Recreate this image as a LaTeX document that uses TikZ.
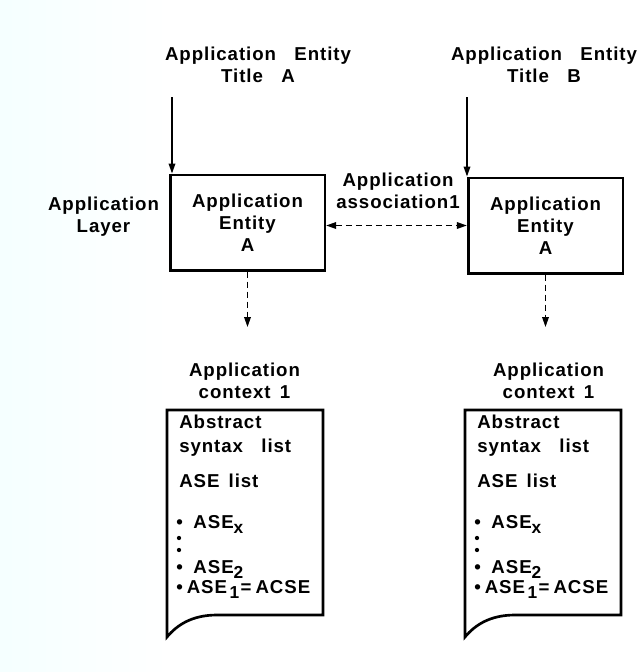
\documentclass[tikz,border=0pt]{standalone}
\usepackage{fontspec}
\setmainfont{Liberation Sans}[LetterSpace=5,WordSpace=1.5]
\usetikzlibrary{arrows.meta,positioning}

\newcommand{\lowr}[1]{\raisebox{-0.55ex}{\fontsize{13}{13}\selectfont #1}}

\tikzset{
  lbl/.style={font=\bfseries\fontsize{14}{16.5}\selectfont, align=center, inner sep=0pt},
  item/.style={font=\bfseries\fontsize{14}{16.5}\selectfont, anchor=base west, inner sep=0pt},
  aebox/.style={lbl, draw, line width=2pt, minimum width=116pt, minimum height=71.5pt},
  doc/.style={line width=2pt, line join=miter},
  arr/.style={line width=1pt, -{Triangle[length=7.5pt,width=5pt]}},
  dasharr/.style={arr, dash pattern=on 4.5pt off 3pt}
}

\begin{document}
\begin{tikzpicture}[x=0.75pt,y=-0.75pt]
\useasboundingbox (0,0) rectangle (637,672);
\shade[left color=cyan!4, right color=white] (0,0) rectangle (170,672);

% titles
\node[lbl] (titleA) at (258,65) {Application~~Entity\\Title~~A};
\node[lbl] (titleB) at (544,65) {Application~~Entity\\Title~~B};

% application layer
\node[lbl] (layer) at (103.5,217) {Application\\Layer};
\node[aebox] (aeA) at (247.5,222.5) {Application\\Entity\\A};
\node[aebox] (aeB) at (545.5,225.5) {Application\\Entity\\A};
\node[lbl] (assoc) at (398,190.5) {Application\\association1};

\coordinate (inA) at (172,97);
\coordinate (inB) at (467,97);
\draw[arr] (inA) -- (inA |- aeA.north);
\draw[arr] (inB) -- (inB |- aeB.north);
\draw[dasharr, {Triangle[length=7.5pt,width=5pt]}-{Triangle[length=7.5pt,width=5pt]}]
  (aeB.west -| aeA.east) -- (aeB.west);

\coordinate (outA) at (247.5,327);
\coordinate (outB) at (545.5,327);
\draw[dasharr] (aeA.south) -- (outA);
\draw[dasharr] (aeB.south) -- (outB);

% application contexts
\node[lbl] (ctxA) at (244.5,381) {Application\\context 1};
\node[lbl] (ctxB) at (548.5,381) {Application\\context 1};

\foreach \s/\x in {A/167,B/465}{
  \draw[doc] (\x,410) -- (\x+156,410) -- (\x+156,615) -- (\x+50,615)
    .. controls (\x+25,615) and (\x+10,625) .. (\x,637) -- cycle;
  \node[item] (abs\s) at (\x+12,428) {Abstract};
  \node[item] (syn\s) at (\x+12,452) {syntax~~list};
  \node[item] (asel\s) at (\x+12,487) {ASE list};
  \node[item] (asex\s) at (\x+9,528) {•\hspace{8pt}ASE\lowr{x}};
  \fill (\x+12,538) circle (1.6pt);
  \fill (\x+12,550) circle (1.6pt);
  \node[item] (asetwo\s) at (\x+9,573) {•\hspace{8pt}ASE\lowr{2}};
  \node[item] (aseone\s) at (\x+9,593) {•\hspace{3pt}ASE\hspace{2pt}\lowr{1}\hspace{1pt}=\hspace{3pt}ACSE};
}
\end{tikzpicture}
\end{document}
